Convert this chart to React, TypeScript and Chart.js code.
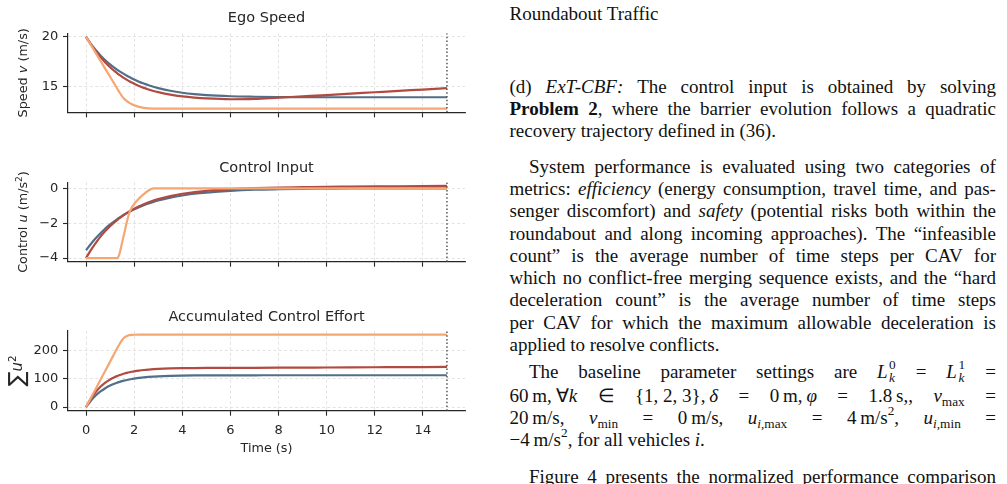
import React, { useEffect, useRef } from "react";
import { Chart, registerables } from "chart.js";

Chart.register(...registerables);

// ---------------------------------------------------------------------------
// Simulation traces (sampled time grid, seconds)
// ---------------------------------------------------------------------------
const timeS = [0, 0.2, 0.4, 0.6, 0.8, 1.0, 1.2, 1.3, 1.4, 1.5, 1.6, 1.7, 1.8, 1.9, 2.0, 2.2, 2.4, 2.6, 2.8, 3.0, 3.5, 4, 4.5, 5, 6, 7, 8, 9, 10, 11, 12, 13, 14, 15];

// Ego speed v (m/s)
const speedBlue = [20.0, 19.3, 18.68, 18.14, 17.66, 17.24, 16.87, 16.7, 16.54, 16.39, 16.24, 16.1, 15.97, 15.85, 15.73, 15.51, 15.32, 15.15, 15.0, 14.87, 14.6, 14.4, 14.26, 14.16, 14.05, 14.0, 13.97, 13.96, 13.95, 13.95, 13.95, 13.95, 13.95, 13.95];
const speedRed = [20.0, 19.25, 18.58, 17.98, 17.44, 16.96, 16.54, 16.35, 16.17, 16.0, 15.84, 15.69, 15.55, 15.42, 15.3, 15.08, 14.89, 14.73, 14.58, 14.46, 14.21, 14.03, 13.91, 13.83, 13.75, 13.78, 13.91, 14.04, 14.17, 14.31, 14.45, 14.59, 14.72, 14.86];
const speedOrange = [20.0, 19.2, 18.4, 17.6, 16.8, 16.0, 15.2, 14.8, 14.4, 14.04, 13.76, 13.55, 13.38, 13.25, 13.14, 12.98, 12.88, 12.83, 12.81, 12.8, 12.8, 12.8, 12.8, 12.8, 12.8, 12.8, 12.8, 12.8, 12.8, 12.8, 12.8, 12.8, 12.8, 12.8];

// Control input u (m/s^2)
const controlBlue = [-3.55, -3.19, -2.86, -2.57, -2.3, -2.07, -1.86, -1.76, -1.67, -1.58, -1.49, -1.42, -1.34, -1.27, -1.2, -1.08, -0.97, -0.87, -0.78, -0.7, -0.54, -0.41, -0.31, -0.24, -0.14, -0.08, -0.05, -0.03, -0.02, -0.01, -0.01, 0, 0, 0];
const controlRed = [-4.0, -3.54, -3.14, -2.77, -2.45, -2.17, -1.92, -1.81, -1.7, -1.6, -1.5, -1.41, -1.33, -1.25, -1.17, -1.03, -0.91, -0.8, -0.7, -0.62, -0.45, -0.31, -0.22, -0.14, -0.05, 0.01, 0.05, 0.07, 0.09, 0.1, 0.11, 0.12, 0.13, 0.14];
const controlOrange = [-4.0, -4.0, -4.0, -4.0, -4.0, -4.0, -4.0, -4.0, -3.7, -3.1, -2.5, -1.9, -1.4, -1.1, -0.9, -0.58, -0.33, -0.12, 0, 0, 0, 0, 0, 0, 0, 0, 0, 0, 0, 0, 0, 0, 0, 0];

// Accumulated control effort, sum of u^2
const effortBlue = [0, 22.5, 40.5, 55.0, 66.4, 75.6, 83.0, 86.0, 88.8, 91.3, 93.4, 95.4, 97.2, 98.8, 100.1, 102.5, 104.5, 106.0, 107.2, 108.2, 109.8, 110.7, 111.3, 111.6, 111.8, 111.9, 112, 112, 112, 112, 112, 112, 112, 112];
const effortRed = [0, 29.7, 53.0, 71.3, 85.7, 96.9, 105.8, 109.4, 112.7, 115.6, 118.2, 120.4, 122.4, 124.2, 125.8, 128.4, 130.5, 132.1, 133.4, 134.4, 136.0, 136.9, 137.4, 137.7, 138.0, 138.2, 138.5, 138.9, 139.3, 139.7, 140.1, 140.5, 140.9, 141.3];
const effortOrange = [0, 32, 64, 96, 128, 160, 192, 208, 223, 236, 245, 250, 253, 254, 254.6, 255, 255, 255, 255, 255, 255, 255, 255, 255, 255, 255, 255, 255, 255, 255, 255, 255, 255, 255];

const timeTicks = [0, 2, 4, 6, 8, 10, 12, 14];
const speedTicks = [15, 20];
const controlTicks = [-4, -2, 0];
const effortTicks = [0, 100, 200];
const horizonS = 15;

// ---------------------------------------------------------------------------
// Styling
// ---------------------------------------------------------------------------
const BLUE = "#516f88";
const RED = "#b14a40";
const ORANGE = "#f5a672";
const INK = "#262626";
const GRID = "#dcdcdc";
const SANS = "'DejaVu Sans', Verdana, sans-serif";
const SERIF = "'Liberation Serif', 'Times New Roman', serif";

const CANVAS_W = 480;
const AREA_LEFT = 68;
const AREA_RIGHT = 465;

Chart.defaults.font.family = SANS;

type Seg = { t: string; italic?: boolean; size?: number; rise?: number };

type PanelSpec = {
  top: number;
  height: number;
  areaTop: number;
  areaBottom: number;
  series: number[][];
  ticks: number[];
  showTimeLabels: boolean;
  title: string;
  titleDy: number;
  yLabel: Seg[];
  yLabelX: number;
  xLabel?: string;
  xLabelDy?: number;
};

const panels: PanelSpec[] = [
  {
    top: 0,
    height: 140,
    areaTop: 33.3,
    areaBottom: 112.3,
    series: [speedBlue, speedRed, speedOrange],
    ticks: speedTicks,
    showTimeLabels: false,
    title: "Ego Speed",
    titleDy: -11.3,
    yLabel: [{ t: "Speed " }, { t: "v", italic: true }, { t: " (m/s)" }],
    yLabelX: 27.3,
  },
  {
    top: 140,
    height: 150,
    areaTop: 182.3,
    areaBottom: 261.7,
    series: [controlBlue, controlRed, controlOrange],
    ticks: controlTicks,
    showTimeLabels: false,
    title: "Control Input",
    titleDy: -10.8,
    yLabel: [
      { t: "Control " },
      { t: "u", italic: true },
      { t: " (m/s" },
      { t: "2", size: 9, rise: 5 },
      { t: ")" },
    ],
    yLabelX: 27.3,
  },
  {
    top: 290,
    height: 194,
    areaTop: 331,
    areaBottom: 410.7,
    series: [effortBlue, effortRed, effortOrange],
    ticks: effortTicks,
    showTimeLabels: true,
    title: "Accumulated Control Effort",
    titleDy: -10,
    yLabel: [
      { t: "\u2211", size: 22, rise: -2 },
      { t: "u", italic: true, size: 15 },
      { t: "2", size: 10.5, rise: 6.5 },
    ],
    yLabelX: 22,
    xLabel: "Time (s)",
    xLabelDy: 41.3,
  },
];

function autoRange(values: number[][]): [number, number] {
  const all = values.flat();
  const lo = Math.min(...all);
  const hi = Math.max(...all);
  const m = (hi - lo) * 0.05;
  return [lo - m, hi + m];
}

function fmtTick(v: number | string) {
  return String(v).replace("-", "\u2212");
}

function segFont(s: Seg, base: number) {
  return `${s.italic ? "oblique " : ""}${s.size ?? base}px ${SANS}`;
}

function drawSegs(ctx: CanvasRenderingContext2D, segs: Seg[], base: number) {
  const widths = segs.map((s) => {
    ctx.font = segFont(s, base);
    return ctx.measureText(s.t).width;
  });
  let x = -widths.reduce((a, b) => a + b, 0) / 2;
  segs.forEach((s, i) => {
    ctx.font = segFont(s, base);
    ctx.fillText(s.t, x, -(s.rise ?? 0));
    x += widths[i];
  });
}

function makePanelText(p: PanelSpec) {
  return {
    id: "panelText",
    afterDraw(chart: Chart) {
      const { ctx, chartArea: a } = chart;
      ctx.save();
      ctx.fillStyle = INK;
      ctx.textBaseline = "alphabetic";
      ctx.textAlign = "left";
      const cx = (a.left + a.right) / 2;

      ctx.save();
      ctx.translate(cx, a.top + p.titleDy);
      drawSegs(ctx, [{ t: p.title }], 14.5);
      ctx.restore();

      ctx.save();
      ctx.translate(p.yLabelX, (a.top + a.bottom) / 2);
      ctx.rotate(-Math.PI / 2);
      drawSegs(ctx, p.yLabel, 12.8);
      ctx.restore();

      if (p.xLabel) {
        ctx.save();
        ctx.translate(cx, a.bottom + (p.xLabelDy ?? 0));
        drawSegs(ctx, [{ t: p.xLabel }], 12.8);
        ctx.restore();
      }
      ctx.restore();
    },
  };
}

function lineSet(ys: number[], color: string, order: number) {
  return {
    data: timeS.map((t, i) => ({ x: t, y: ys[i] })),
    borderColor: color,
    backgroundColor: color,
    borderWidth: 2.2,
    pointRadius: 0,
    cubicInterpolationMode: "monotone" as const,
    borderJoinStyle: "round" as const,
    order,
  };
}

function buildConfig(p: PanelSpec): any {
  const [yMin, yMax] = autoRange(p.series);
  const [tMin, tMax] = autoRange([timeS]);
  const gridOpts = {
    color: GRID,
    lineWidth: 0.8,
    drawTicks: true,
    tickLength: 5,
    tickWidth: 1.1,
    tickColor: INK,
    tickBorderDash: [],
  };
  const borderOpts = { display: true, color: INK, width: 1.2, dash: [3, 2.4] };
  return {
    type: "line",
    data: {
      datasets: [
        {
          data: [
            { x: horizonS, y: yMin },
            { x: horizonS, y: yMax },
          ],
          borderColor: "#4a4a4a",
          borderWidth: 1.4,
          borderDash: [1.5, 2.2],
          pointRadius: 0,
          order: 0,
        },
        lineSet(p.series[2], ORANGE, 1),
        lineSet(p.series[1], RED, 2),
        lineSet(p.series[0], BLUE, 3),
      ],
    },
    options: {
      responsive: false,
      animation: false,
      events: [],
      layout: {
        padding: { top: p.areaTop - p.top, right: CANVAS_W - AREA_RIGHT, left: 0, bottom: 0 },
      },
      plugins: {
        legend: { display: false },
        tooltip: { enabled: false },
        title: { display: false },
      },
      scales: {
        x: {
          type: "linear",
          min: tMin,
          max: tMax,
          afterBuildTicks: (s: any) => {
            s.ticks = timeTicks.map((v) => ({ value: v }));
          },
          afterFit: (s: any) => {
            s.height = p.top + p.height - p.areaBottom;
          },
          ticks: {
            display: p.showTimeLabels,
            color: INK,
            font: { family: SANS, size: 13 },
            padding: 7,
            maxRotation: 0,
            autoSkip: false,
          },
          grid: gridOpts,
          border: borderOpts,
        },
        y: {
          type: "linear",
          min: yMin,
          max: yMax,
          afterBuildTicks: (s: any) => {
            s.ticks = p.ticks.map((v) => ({ value: v }));
          },
          afterFit: (s: any) => {
            s.width = AREA_LEFT;
          },
          ticks: {
            color: INK,
            font: { family: SANS, size: 13 },
            padding: 4.7,
            callback: (v: number) => fmtTick(v),
          },
          grid: gridOpts,
          border: borderOpts,
        },
      },
    },
    plugins: [makePanelText(p)],
  };
}

function Panel({ spec }: { spec: PanelSpec }) {
  const ref = useRef<HTMLCanvasElement>(null);
  useEffect(() => {
    const chart = new Chart(ref.current as HTMLCanvasElement, buildConfig(spec));
    return () => chart.destroy();
  }, [spec]);
  return (
    <canvas
      ref={ref}
      width={CANVAS_W}
      height={spec.height}
      style={{ position: "absolute", left: 0, top: spec.top, width: CANVAS_W, height: spec.height }}
    />
  );
}

// ---------------------------------------------------------------------------
// Text column
// ---------------------------------------------------------------------------
const BODY_PX = 19;
const LINE_PX = 22;
const COL_LEFT = 509.5;
const COL_RIGHT = 996;
const INDENT = 19.5;
const THIN = "\u2009";

const I = ({ children }: { children: React.ReactNode }) => <span style={{ fontStyle: "italic" }}>{children}</span>;
const B = ({ children }: { children: React.ReactNode }) => <span style={{ fontWeight: "bold" }}>{children}</span>;
const Sup = ({ children }: { children: React.ReactNode }) => (
  <span style={{ fontSize: "0.7em", position: "relative", top: "-0.62em", lineHeight: 1 }}>{children}</span>
);
const Sub = ({ children }: { children: React.ReactNode }) => (
  <span style={{ fontSize: "0.7em", position: "relative", top: "0.36em", lineHeight: 1 }}>{children}</span>
);
const SubSup = ({ sub, sup }: { sub: string; sup: string }) => (
  <span style={{ display: "inline-block", position: "relative", width: "0.45em", height: "0.5em" }}>
    <span style={{ position: "absolute", left: 1.5, top: -10.5, fontSize: "0.7em", lineHeight: 1 }}>{sup}</span>
    <span style={{ position: "absolute", left: 1.5, top: 2.5, fontSize: "0.7em", lineHeight: 1, fontStyle: "italic" }}>{sub}</span>
  </span>
);

type TextLine = { y: number; words: React.ReactNode[]; justify?: boolean; indent?: boolean };

const textLines: TextLine[] = [
  { y: 20.5, words: ["Roundabout", "Traffic"] },
  { y: 93, justify: true, words: ["(d)", <I>ExT-CBF:</I>, "The", "control", "input", "is", "obtained", "by", "solving"] },
  { y: 115, justify: true, words: [<B>Problem</B>, <><B>2</B>,</>, "where", "the", "barrier", "evolution", "follows", "a", "quadratic"] },
  { y: 137, words: ["recovery", "trajectory", "defined", "in", "(36)."] },
  { y: 173.5, indent: true, justify: true, words: ["System", "performance", "is", "evaluated", "using", "two", "categories", "of"] },
  { y: 195.7, justify: true, words: ["metrics:", <I>efficiency</I>, "(energy", "consumption,", "travel", "time,", "and", "pas-"] },
  { y: 217.9, justify: true, words: ["senger", "discomfort)", "and", <I>safety</I>, "(potential", "risks", "both", "within", "the"] },
  { y: 240.1, justify: true, words: ["roundabout", "and", "along", "incoming", "approaches).", "The", "\u201cinfeasible"] },
  { y: 262.3, justify: true, words: ["count\u201d", "is", "the", "average", "number", "of", "time", "steps", "per", "CAV", "for"] },
  { y: 284.5, justify: true, words: ["which", "no", "conflict-free", "merging", "sequence", "exists,", "and", "the", "\u201chard"] },
  { y: 306.7, justify: true, words: ["deceleration", "count\u201d", "is", "the", "average", "number", "of", "time", "steps"] },
  { y: 329.5, justify: true, words: ["per", "CAV", "for", "which", "the", "maximum", "allowable", "deceleration", "is"] },
  { y: 351.5, words: ["applied", "to", "resolve", "conflicts."] },
  {
    y: 378,
    indent: true,
    justify: true,
    words: [
      "The",
      "baseline",
      "parameter",
      "settings",
      "are",
      <><I>L</I><SubSup sub="k" sup="0" /></>,
      "=",
      <><I>L</I><SubSup sub="k" sup="1" /></>,
      "=",
    ],
  },
  {
    y: 402,
    justify: true,
    words: [
      <>60{THIN}m,{THIN}∀<I>k</I></>,
      "∈",
      <>{"{1, 2, 3}"},{THIN}<I>δ</I></>,
      "=",
      <>0{THIN}m,{THIN}<I>φ</I></>,
      "=",
      <>1.8{THIN}s,,</>,
      <><I>v</I><Sub>max</Sub></>,
      "=",
    ],
  },
  {
    y: 424,
    justify: true,
    words: [
      <>20{THIN}m/s,</>,
      <><I>v</I><Sub>min</Sub></>,
      "=",
      <>0{THIN}m/s,</>,
      <><I>u</I><Sub><I>i</I>,max</Sub></>,
      "=",
      <>4{THIN}m/s<Sup>2</Sup>,</>,
      <><I>u</I><Sub><I>i</I>,min</Sub></>,
      "=",
    ],
  },
  { y: 446, words: [<>−4{THIN}m/s<Sup>2</Sup>,</>, "for", "all", "vehicles", <><I>i</I>.</>] },
  { y: 483.5, indent: true, justify: true, words: ["Figure", "4", "presents", "the", "normalized", "performance", "comparison"] },
];

function lineTop(baseline: number) {
  const content = 1.107 * BODY_PX;
  return baseline - ((LINE_PX - content) / 2 + 0.891 * BODY_PX);
}

function Line({ line }: { line: TextLine }) {
  const left = COL_LEFT + (line.indent ? INDENT : 0);
  const style: React.CSSProperties = {
    position: "absolute",
    left,
    width: COL_RIGHT - left,
    top: lineTop(line.y),
    height: LINE_PX,
    lineHeight: `${LINE_PX}px`,
    fontSize: BODY_PX,
    whiteSpace: "nowrap",
    color: "#111",
  };
  if (line.justify) {
    return (
      <div style={{ ...style, display: "flex", justifyContent: "space-between", alignItems: "baseline" }}>
        {line.words.map((w, i) => (
          <span key={i}>{w}</span>
        ))}
      </div>
    );
  }
  return (
    <div style={style}>
      {line.words.map((w, i) => (
        <React.Fragment key={i}>
          {i > 0 ? " " : ""}
          {w}
        </React.Fragment>
      ))}
    </div>
  );
}

export default function App() {
  return (
    <div
      style={{
        position: "fixed",
        left: 0,
        top: 0,
        width: 1007,
        height: 484,
        overflow: "hidden",
        background: "#ffffff",
        fontFamily: SERIF,
      }}
    >
      {panels.map((p, i) => (
        <Panel key={i} spec={p} />
      ))}
      {textLines.map((l, i) => (
        <Line key={i} line={l} />
      ))}
    </div>
  );
}
